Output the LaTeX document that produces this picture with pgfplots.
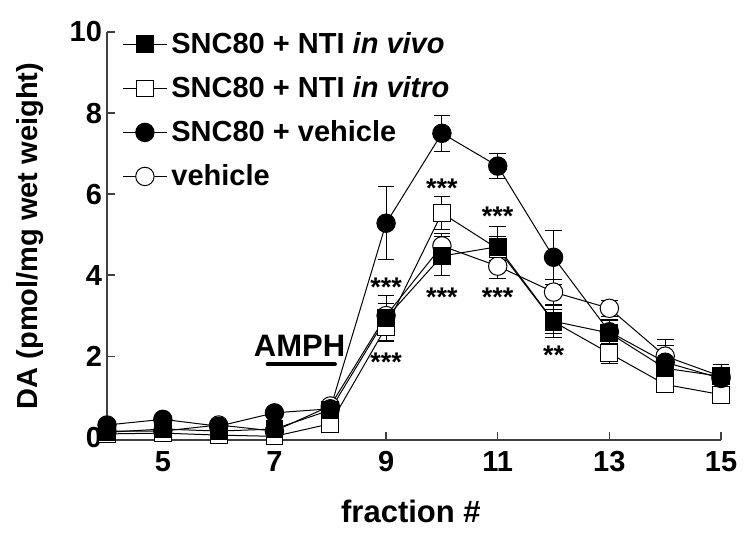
\documentclass[border=0pt]{standalone}
\usepackage{pgfplots}
\pgfplotsset{compat=1.18}
\usepackage{pgfplotstable}
\usepackage{fontspec}
\setmainfont{Liberation Sans}

% x  y  err
\pgfplotstableread{
x y e
4 0.12 0.05
5 0.20 0.05
6 0.15 0.05
7 0.20 0.05
8 0.67 0.10
9 2.94 0.55
10 4.47 0.48
11 4.70 0.50
12 2.86 0.40
13 2.57 0.30
14 1.70 0.30
15 1.50 0.30
}\invivo
\pgfplotstableread{
x y e
4 0.08 0.03
5 0.10 0.03
6 0.05 0.03
7 0.02 0.03
8 0.33 0.10
9 2.72 0.35
10 5.53 0.40
11 4.65 0.30
12 2.85 0.30
13 2.07 0.25
14 1.30 0.20
15 1.05 0.20
}\invitro
\pgfplotstableread{
x y e
4 0.30 0.05
5 0.44 0.05
6 0.27 0.05
7 0.60 0.05
8 0.70 0.10
9 5.28 0.90
10 7.50 0.44
11 6.69 0.30
12 4.44 0.66
13 2.60 0.30
14 1.85 0.40
15 1.45 0.35
}\sncveh
\pgfplotstableread{
x y e
4 0.15 0.05
5 0.15 0.05
6 0.30 0.05
7 0.15 0.05
8 0.77 0.10
9 3.00 0.30
10 4.72 0.30
11 4.22 0.30
12 3.58 0.30
13 3.18 0.20
14 2.00 0.40
15 1.50 0.30
}\vehicle

\begin{document}
\begin{tikzpicture}
\begin{axis}[
  scale only axis, width=307pt, height=204pt,
  xmin=4, xmax=15, ymin=-0.07, ymax=10,
  axis x line*=bottom, axis y line*=left,
  axis line style={black!75, line width=0.6pt, -},
  xtick={5,7,9,11,13,15}, ytick={0,2,...,10},
  tick align=inside, major tick length=4pt,
  tick style={black!75, line width=0.6pt},
  /pgf/number format/assume math mode=true,
  tick label style={font=\fontsize{14.5}{16}\selectfont\bfseries},
  xticklabel style={yshift=-2pt},
  yticklabel style={xshift=1pt},
  xlabel={fraction \#}, ylabel={DA (pmol/mg wet weight)},
  label style={font=\fontsize{14.5}{17}\selectfont\bfseries},
  xlabel style={at={(axis description cs:0.495,-0.174)}, anchor=center, font=\fontsize{15.5}{18}\selectfont\bfseries},
  ylabel style={at={(axis description cs:-0.1254,0.5)}, anchor=center},
  clip=false,
  legend image code/.code={\draw[mark repeat=2, mark phase=2] plot coordinates {(0pt,0pt) (11pt,0pt) (22pt,0pt)};},
  legend style={at={(axis cs:4,10)}, anchor=north west, xshift=7.5pt, yshift=2pt,
    draw=none, fill=none, inner sep=0pt, row sep=6pt,
    font=\fontsize{14.5}{17}\selectfont\bfseries},
  legend cell align=left,
  every axis plot/.append style={black, line width=0.5pt,
    mark options={solid, line width=0.5pt},
    error bars/y dir=both, error bars/y explicit,
    error bars/error bar style={black, line width=0.5pt},
    error bars/error mark options={rotate=90, mark size=4.2pt, black, line width=0.5pt}},
]
\addplot[forget plot, mark=*, mark size=4.6pt, mark options={fill=white}] table[x=x, y=y, y error=e] {\vehicle};
\addplot[forget plot, mark=square*, mark size=4.2pt, mark options={fill=white}] table[x=x, y=y, y error=e] {\invitro};
\addplot[forget plot, mark=*, mark size=4.6pt, mark options={fill=black}] table[x=x, y=y, y error=e] {\sncveh};
\addplot[forget plot, mark=square*, mark size=4.2pt, mark options={fill=black}] table[x=x, y=y, y error=e] {\invivo};

\addlegendimage{black, line width=0.5pt, mark=square*, mark size=4.2pt, mark options={fill=black}}
\addlegendentry{SNC80 + NTI \textit{in vivo}}
\addlegendimage{black, line width=0.5pt, mark=square*, mark size=4.2pt, mark options={fill=white}}
\addlegendentry{SNC80 + NTI \textit{in vitro}}
\addlegendimage{black, line width=0.5pt, mark=*, mark size=4.6pt, mark options={fill=black}}
\addlegendentry{SNC80 + vehicle}
\addlegendimage{black, line width=0.5pt, mark=*, mark size=4.6pt, mark options={fill=white}}
\addlegendentry{vehicle}

\begin{scope}[every node/.style={font=\fontsize{13.5}{15}\selectfont\bfseries, yshift=-2.6pt}]
\node at (axis cs:9,3.83) {***};
\node at (axis cs:9,1.98) {***};
\node at (axis cs:10,6.27) {***};
\node at (axis cs:10,3.58) {***};
\node at (axis cs:11,5.58) {***};
\node at (axis cs:11,3.58) {***};
\node at (axis cs:12,2.15) {**};
\end{scope}
\node[anchor=base, font=\fontsize{15.5}{18}\selectfont\bfseries, inner sep=0pt] at (axis cs:7.45,2.0) {AMPH};
\draw[line width=2.2pt, line cap=round] (axis cs:6.88,1.8) -- (axis cs:8.08,1.8);

\coordinate (sw) at (rel axis cs:0,0);
\coordinate (ne) at (rel axis cs:1,1);
\end{axis}
\pgfresetboundingbox
\path[use as bounding box] ([shift={(-53.5pt,-46.5pt)}]sw) rectangle ([shift={(14.5pt,16pt)}]ne);
\end{tikzpicture}
\end{document}
